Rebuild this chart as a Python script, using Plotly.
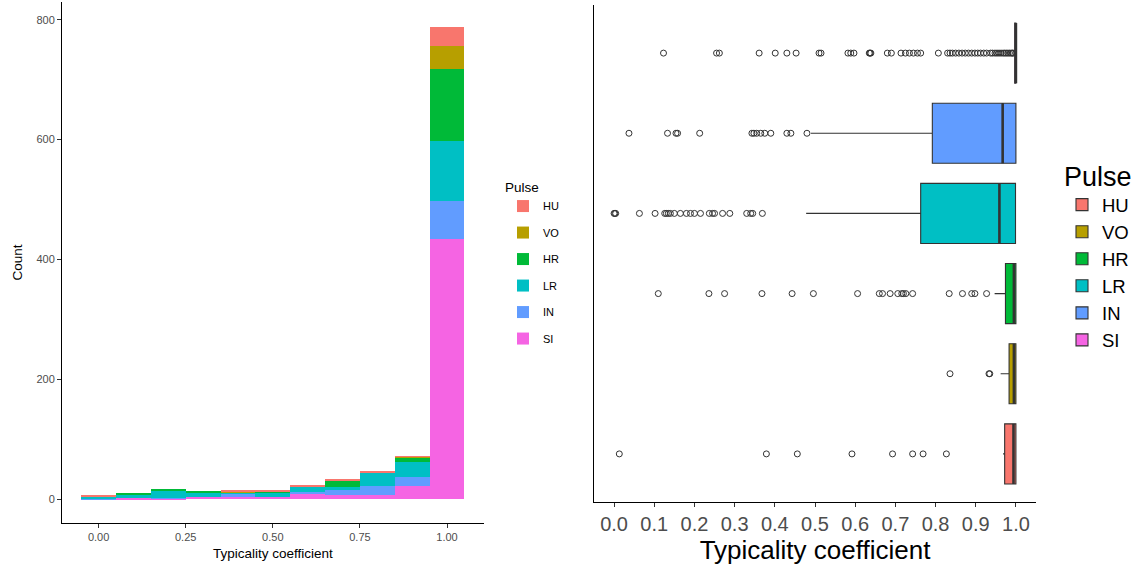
import plotly.graph_objects as go

# ---------------- data ----------------
pulses = ["HU", "VO", "HR", "LR", "IN", "SI"]
colors = {"HU": "#F8766D", "VO": "#B79F00", "HR": "#00BA38",
          "LR": "#00BFC4", "IN": "#619CFF", "SI": "#F564E3"}

bin_centers = [0.0, 0.1, 0.2, 0.3, 0.4, 0.5, 0.6, 0.7, 0.8, 0.9, 1.0]
count_SI = [0, 2, 1, 4, 4, 4, 9, 8, 7, 22, 435]
count_IN = [2, 0, 2, 0, 6, 0, 4, 7, 15, 16, 62]
count_LR = [3, 6, 12, 7, 2, 8, 8, 5, 22, 24, 101]
count_HR = [0, 2, 1, 2, 0, 1, 0, 12, 1, 8, 120]
count_VO = [0, 0, 0, 0, 1, 0, 1, 0, 0, 1, 38]
count_HU = [1, 0, 0, 0, 1, 1, 1, 2, 2, 1, 31]
counts = {"SI": count_SI, "IN": count_IN, "LR": count_LR,
          "HR": count_HR, "VO": count_VO, "HU": count_HU}

# box statistics (q1, median, q3, lower whisker, upper whisker)
box_pos = {"HU": 1, "VO": 2, "HR": 3, "LR": 4, "IN": 5, "SI": 6}
box_q1 = {"HU": 0.972, "VO": 0.983, "HR": 0.974, "LR": 0.763, "IN": 0.792, "SI": 0.997}
box_med = {"HU": 0.994, "VO": 0.995, "HR": 0.995, "LR": 0.959, "IN": 0.967, "SI": 1.0}
box_q3 = {"HU": 1.0, "VO": 1.0, "HR": 1.0, "LR": 0.999, "IN": 1.0, "SI": 1.0}
box_lo = {"HU": 0.968, "VO": 0.962, "HR": 0.947, "LR": 0.478, "IN": 0.49, "SI": 0.994}
box_hi = {"HU": 1.0, "VO": 1.0, "HR": 1.0, "LR": 1.0, "IN": 1.0, "SI": 1.0}

out_HU = [0.013, 0.379, 0.456, 0.592, 0.693, 0.743, 0.769, 0.827]
out_VO = [0.836, 0.933, 0.935]
out_HR = [0.11, 0.236, 0.275, 0.368, 0.443, 0.496, 0.606, 0.66, 0.668, 0.687,
          0.706, 0.716, 0.72, 0.726, 0.743, 0.834, 0.867, 0.89, 0.898, 0.927]
out_LR = [0.0, 0.002, 0.004, 0.063, 0.102, 0.126, 0.13, 0.135, 0.14, 0.15,
          0.165, 0.18, 0.19, 0.2, 0.215, 0.237, 0.245, 0.25, 0.27, 0.288,
          0.33, 0.34, 0.345, 0.369]
out_IN = [0.037, 0.133, 0.154, 0.158, 0.213, 0.343, 0.348, 0.355, 0.365,
          0.375, 0.39, 0.43, 0.44, 0.48]
out_SI = [0.123, 0.255, 0.262, 0.361, 0.401, 0.43, 0.453, 0.51, 0.515,
          0.582, 0.589, 0.597, 0.635, 0.637, 0.639, 0.68, 0.69, 0.714, 0.725,
          0.735, 0.745, 0.755, 0.763, 0.807, 0.83, 0.836, 0.842, 0.85, 0.858,
          0.866, 0.874, 0.882, 0.89, 0.898, 0.905, 0.912, 0.92, 0.927, 0.937,
          0.942, 0.948, 0.953, 0.958, 0.963, 0.968, 0.972, 0.976, 0.98, 0.984,
          0.988, 0.991, 0.993]
outliers = {"HU": out_HU, "VO": out_VO, "HR": out_HR, "LR": out_LR,
            "IN": out_IN, "SI": out_SI}

left_xticks = [0.0, 0.25, 0.5, 0.75, 1.0]
left_yticks = [0, 200, 400, 600, 800]
right_xticks = [0.0, 0.1, 0.2, 0.3, 0.4, 0.5, 0.6, 0.7, 0.8, 0.9, 1.0]

FONT = "Liberation Sans, Arial, sans-serif"
W, H = 1142, 569

fig = go.Figure()

# ---------------- left: stacked histogram ----------------
for p in ["SI", "IN", "LR", "HR", "VO", "HU"]:
    fig.add_trace(go.Bar(
        x=bin_centers, y=counts[p], width=0.1, name=p,
        marker=dict(color=colors[p], line=dict(width=0)),
        xaxis="x", yaxis="y", legend="legend", legendgroup="L" + p,
        legendrank=pulses.index(p) + 1,
    ))

# ---------------- right: boxplots ----------------
for p in pulses:
    fig.add_trace(go.Box(
        y=[box_pos[p]], q1=[box_q1[p]], median=[box_med[p]], q3=[box_q3[p]],
        lowerfence=[box_lo[p]], upperfence=[box_hi[p]],
        orientation="h", width=0.75, whiskerwidth=0, boxpoints=False,
        fillcolor=colors[p], line=dict(color="#333333", width=1.1),
        name=p, xaxis="x2", yaxis="y2", legend="legend2",
    ))
for p in pulses:
    fig.add_trace(go.Scatter(
        x=[box_med[p], box_med[p]], y=[box_pos[p] - 0.375, box_pos[p] + 0.375],
        mode="lines", line=dict(color="#333333", width=2.6),
        xaxis="x2", yaxis="y2", showlegend=False, hoverinfo="skip",
    ))
    fig.add_trace(go.Scatter(
        x=outliers[p], y=[box_pos[p]] * len(outliers[p]), mode="markers",
        marker=dict(symbol="circle-open", size=6, color="#333333",
                    line=dict(width=1, color="#333333")),
        xaxis="x2", yaxis="y2", showlegend=False, hoverinfo="skip",
    ))

axis_common = dict(showline=True, linecolor="#000000", linewidth=1,
                   ticks="outside", ticklen=4, tickcolor="#333333",
                   showgrid=False, zeroline=False)

fig.update_layout(
    width=W, height=H,
    margin=dict(l=0, r=0, t=0, b=0),
    paper_bgcolor="white", plot_bgcolor="white",
    font=dict(family=FONT, color="#000000"),
    barmode="stack", bargap=0,
    showlegend=True,
    xaxis=dict(domain=[62 / W, 483.6 / W], range=[-0.105, 1.105],
               tickvals=left_xticks, tickformat=".2f",
               tickfont=dict(size=11, color="#4D4D4D"),
               title=dict(text="Typicality coefficient", font=dict(size=13.5), standoff=6),
               anchor="y", **axis_common),
    yaxis=dict(domain=[46 / H, 567 / H], range=[-39.5, 829.5],
               tickvals=left_yticks,
               tickfont=dict(size=11, color="#4D4D4D"),
               title=dict(text="Count", font=dict(size=13.5), standoff=10),
               anchor="x", **axis_common),
    xaxis2=dict(domain=[594 / W, 1036 / W], range=[-0.05, 1.05],
                tickvals=right_xticks, tickformat=".1f",
                tickfont=dict(size=20, color="#4D4D4D"),
                title=dict(text="Typicality coefficient", font=dict(size=26), standoff=2),
                anchor="y2", **axis_common),
    yaxis2=dict(domain=[67 / H, 564 / H], range=[0.4, 6.6],
                showticklabels=False, showline=True, linecolor="#000000",
                linewidth=1, ticks="", showgrid=False, zeroline=False,
                anchor="x2"),
    legend=dict(x=503 / W, y=1 - 174 / H, xanchor="left", yanchor="top",
                traceorder="grouped", tracegroupgap=7.5,
                title=dict(text="Pulse", font=dict(size=13.5)),
                font=dict(size=11), bgcolor="rgba(0,0,0,0)"),
    legend2=dict(x=1062 / W, y=1 - 151 / H, xanchor="left", yanchor="top",
                 traceorder="normal",
                 title=dict(text="Pulse", font=dict(size=27)),
                 font=dict(size=18.5), bgcolor="rgba(0,0,0,0)"),
)

fig.write_html("out.html")
